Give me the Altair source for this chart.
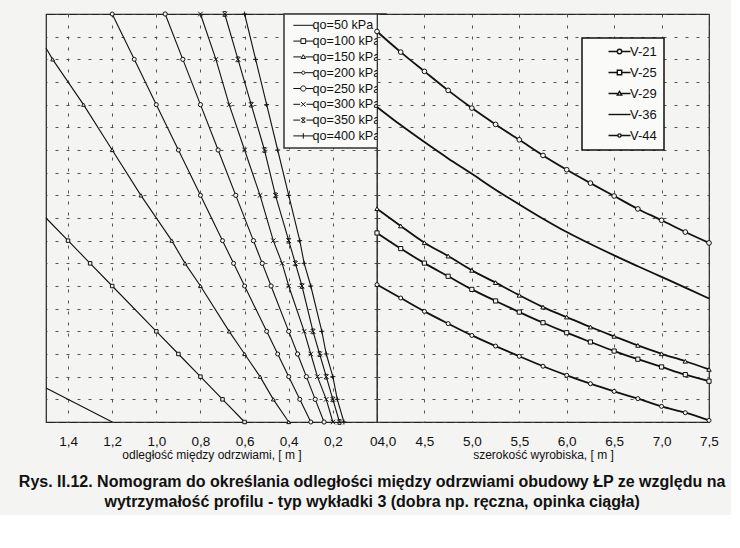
import altair as alt
import pandas as pd

BG = "#f4f4f2"
FONT = "Liberation Sans"

# ---------------- left panel: distance between frames ----------------
left_series = ["qo=50 kPa", "qo=100 kPa", "qo=150 kPa", "qo=200 kPa",
               "qo=250 kPa", "qo=300 kPa", "qo=350 kPa", "qo=400 kPa"]
left_ticks = [1.4, 1.2, 1.0, 0.8, 0.6, 0.4, 0.2, 0.0]

# lines entering through the left frame edge (x, y)
qo50_x = [1.5, 1.2]
qo50_y = [1.5, 0.0]
qo100_start = [1.5, 9.0]
qo150_start = [1.5, 16.5]

# marker points
qo100_x = [1.4, 1.3, 1.2, 1.0, 0.9, 0.8, 0.7, 0.6]
qo100_y = [8, 7, 6, 4, 3, 2, 1, 0]
qo150_x = [1.47, 1.33, 1.2, 1.07, 0.93, 0.87, 0.8, 0.67, 0.6, 0.53, 0.47, 0.4]
qo150_y = [16, 14, 12, 10, 8, 7, 6, 4, 3, 2, 1, 0]
levels = [18, 16, 14, 12, 10, 8, 7, 6, 4, 3, 2, 1, 0]
qo200_x = [1.2, 1.1, 1.0, 0.9, 0.8, 0.7, 0.65, 0.6, 0.5, 0.45, 0.4, 0.35, 0.3]
qo250_x = [0.96, 0.88, 0.8, 0.72, 0.64, 0.56, 0.52, 0.48, 0.4, 0.36, 0.32, 0.28, 0.24]
qo300_x = [0.8, 0.73, 0.67, 0.6, 0.53, 0.47, 0.43, 0.4, 0.33, 0.3, 0.27, 0.23, 0.2]
qo350_x = [0.69, 0.63, 0.57, 0.51, 0.46, 0.4, 0.37, 0.34, 0.29, 0.26, 0.23, 0.2, 0.17]
qo400_x = [0.6, 0.55, 0.5, 0.45, 0.4, 0.35, 0.33, 0.3, 0.25, 0.23, 0.2, 0.18, 0.15]

# ---------------- right panel: excavation width ----------------
right_series = ["V-21", "V-25", "V-29", "V-36", "V-44"]
right_ticks = [4.0, 4.5, 5.0, 5.5, 6.0, 6.5, 7.0, 7.5]
width_x = [4.0, 4.25, 4.5, 4.75, 5.0, 5.25, 5.5, 5.75, 6.0, 6.25, 6.5, 6.75, 7.0, 7.25, 7.5]
v21 = [6.06, 5.47, 4.88, 4.34, 3.82, 3.35, 2.90, 2.46, 2.06, 1.69, 1.35, 1.03, 0.69, 0.41, 0.07]
v25 = [8.34, 7.65, 7.01, 6.43, 5.85, 5.34, 4.85, 4.38, 3.94, 3.53, 3.13, 2.77, 2.43, 2.09, 1.80]
v29 = [9.41, 8.65, 7.91, 7.32, 6.69, 6.15, 5.59, 5.07, 4.63, 4.19, 3.78, 3.38, 3.01, 2.68, 2.32]
v36 = [13.9, 13.1, 12.35, 11.63, 10.95, 10.25, 9.6, 8.97, 8.38, 7.85, 7.35, 6.87, 6.4, 5.93, 5.45]
v44 = [17.23, 16.32, 15.47, 14.63, 13.85, 13.13, 12.45, 11.76, 11.13, 10.54, 9.97, 9.40, 8.90, 8.38, 7.90]

caption = ["Rys. II.12. Nomogram do określania odległości między odrzwiami obudowy ŁP ze względu na",
           "wytrzymałość profilu - typ wykładki 3 (dobra np. ręczna, opinka ciągła)"]

# ---------------- tables ----------------
lrows, lmarks = [], []
def add_left(name, xs, ys, start=None, markers=True):
    if start is not None:
        lrows.append({"series": name, "x": start[0], "y": start[1]})
    for x, y in zip(xs, ys):
        lrows.append({"series": name, "x": x, "y": y})
        if markers:
            lmarks.append({"series": name, "x": x, "y": y})

add_left("qo=50 kPa", qo50_x, qo50_y, markers=False)
add_left("qo=100 kPa", qo100_x, qo100_y, start=qo100_start)
add_left("qo=150 kPa", qo150_x, qo150_y, start=qo150_start)
add_left("qo=200 kPa", qo200_x, levels)
add_left("qo=250 kPa", qo250_x, levels)
add_left("qo=300 kPa", qo300_x, levels)
add_left("qo=350 kPa", qo350_x, levels)
add_left("qo=400 kPa", qo400_x, levels)
left_lines = pd.DataFrame(lrows)
left_marks = pd.DataFrame(lmarks)

rrows = []
for name, ys in zip(right_series, [v21, v25, v29, v36, v44]):
    for x, y in zip(width_x, ys):
        rrows.append({"series": name, "x": x, "y": y, "marker": name != "V-36"})
right_df = pd.DataFrame(rrows)

# ---------------- symbols ----------------
XP = "M-1,-1L1,1M-1,1L1,-1"
XB = "M-1,-1L1,1M-1,1L1,-1M-0.7,-1L0.7,-1M-0.7,1L0.7,1"
PL = "M-1,0L1,0M0,-1L0,1"
left_shapes = ["circle", "square", "triangle-up", "circle", "circle", XP, XB, PL]
left_sizes = [10, 24, 14, 10, 26, 24, 24, 30]

def circ(r):
    return f"M{r},0A{r},{r} 0 1,1 -{r},0A{r},{r} 0 1,1 {r},0Z"

def stub(a, s=5.0):
    return f"M-{s},0L-{a},0M{a},0L{s},0"

left_legend_paths = [
    "M-5.0,0L5.0,0",
    stub(1.2) + "M-1.2,-1.2L1.2,-1.2L1.2,1.2L-1.2,1.2Z",
    stub(1.0) + "M0,-1.1L1.1,0.8L-1.1,0.8Z",
    stub(0.8) + circ(0.8),
    stub(1.3) + circ(1.3),
    stub(1.6) + "M-1.1,-1.1L1.1,1.1M-1.1,1.1L1.1,-1.1",
    stub(1.6) + "M-1.1,-1.1L1.1,1.1M-1.1,1.1L1.1,-1.1M-0.8,-1.1L0.8,-1.1M-0.8,1.1L0.8,1.1",
    "M-5.0,0L5.0,0M0,-1.4L0,1.4",
]
right_shapes = ["circle", "square", "triangle-up", "circle", "circle"]
right_sizes = [16, 22, 14, 10, 10]
right_legend_paths = [
    stub(1.1, 5.5) + circ(1.1),
    stub(1.1, 5.5) + "M-1.1,-1.1L1.1,-1.1L1.1,1.1L-1.1,1.1Z",
    stub(1.0, 5.5) + "M0,-1.1L1.1,0.8L-1.1,0.8Z",
    "M-5.5,0L5.5,0",
    stub(0.8, 5.5) + circ(0.8),
]

H = 408
yenc = alt.Y("y:Q", scale=alt.Scale(domain=[0, 18], nice=False, zero=False),
             axis=alt.Axis(values=list(range(19)), labels=False, title=None))

# ---------------- left chart ----------------
xl = alt.X("x:Q", scale=alt.Scale(domain=[0, 1.5], reverse=True, nice=False, zero=False),
           axis=alt.Axis(values=left_ticks, title="odległość między odrzwiami, [ m ]",
                         labelExpr="datum.value == 0 ? '0  ' : replace(format(datum.value, '.1f'), '.', ',')",
                         labelAlign={"condition": {"test": "datum.value == 0", "value": "right"}, "value": "center"},
                         titleY=36, titleBaseline="alphabetic"))

l_lines = alt.Chart(left_lines).mark_line(color="#111", strokeWidth=1.1).encode(
    x=xl, y=yenc, detail="series:N")
l_pts = alt.Chart(left_marks).mark_point(filled=True, fill=BG, stroke="#111", strokeWidth=1, opacity=1).encode(
    x=xl, y=yenc,
    shape=alt.Shape("series:N", scale=alt.Scale(domain=left_series, range=left_shapes), legend=None),
    size=alt.Size("series:N", scale=alt.Scale(domain=left_series, range=left_sizes), legend=None))
l_leg = alt.Chart(left_lines).transform_filter("false").mark_point(
    color="#111", strokeWidth=1, opacity=1).encode(
    x=xl, y=yenc,
    shape=alt.Shape("series:N", scale=alt.Scale(domain=left_series, range=left_legend_paths),
                    legend=alt.Legend(title=None, orient="none", legendX=238, legendY=0,
                                      symbolSize=16, symbolOffset=8, labelOffset=3,
                                      symbolStrokeColor="#111", symbolStrokeWidth=1,
                                      symbolOpacity=1,
                                      labelFont=FONT, labelFontSize=12.6, labelColor="#111",
                                      rowPadding=2.8, padding=5, strokeColor="#333", fillColor="#fafaf8")))
left = alt.layer(l_lines, l_pts, l_leg).resolve_scale(shape="independent", size="independent").properties(
    width=331, height=H)

# ---------------- right chart ----------------
xr = alt.X("x:Q", scale=alt.Scale(domain=[4.0, 7.5], nice=False, zero=False),
           axis=alt.Axis(values=right_ticks, title="szerokość wyrobiska,  [ m ]",
                         labelExpr="replace(format(datum.value, '.1f'), '.', ',')",
                         labelAlign={"condition": {"test": "datum.value == 4", "value": "left"}, "value": "center"},
                         titleY=36, titleBaseline="alphabetic"))
r_lines = alt.Chart(right_df).mark_line(color="#111", strokeWidth=1.8, interpolate="monotone").encode(
    x=xr, y=yenc, detail="series:N")
r_pts = alt.Chart(right_df).transform_filter("datum.marker").mark_point(
    filled=True, fill=BG, stroke="#111", strokeWidth=1, opacity=1).encode(
    x=xr, y=yenc,
    shape=alt.Shape("series:N", scale=alt.Scale(domain=right_series, range=right_shapes), legend=None),
    size=alt.Size("series:N", scale=alt.Scale(domain=right_series, range=right_sizes), legend=None))
r_leg = alt.Chart(right_df).transform_filter("false").mark_point(
    color="#111", strokeWidth=1.4, opacity=1).encode(
    x=xr, y=yenc,
    shape=alt.Shape("series:N", scale=alt.Scale(domain=right_series, range=right_legend_paths),
                    legend=alt.Legend(title=None, orient="none", legendX=205, legendY=24,
                                      symbolSize=16, symbolOffset=24, labelOffset=4,
                                      symbolStrokeColor="#111", symbolStrokeWidth=1.4,
                                      symbolOpacity=1,
                                      labelFont=FONT, labelFontSize=13, labelColor="#111",
                                      labelExpr="datum.label + '\u00a0\u00a0\u00a0\u00a0\u00a0\u00a0\u00a0'",
                                      rowPadding=7, padding=7, strokeColor="#111",
                                      fillColor="#fafaf8")))
right = alt.layer(r_lines, r_pts, r_leg).resolve_scale(shape="independent", size="independent").properties(
    width=332, height=H)

chart = alt.hconcat(left, right, spacing=0, bounds="flush").resolve_scale(
    shape="independent", size="independent").resolve_legend(shape="independent").properties(
    title=alt.TitleParams(caption, orient="bottom", anchor="middle", font=FONT, fontSize=16,
                          fontWeight="bold", color="#111", lineHeight=20, offset=13, dx=-9),
    padding={"left": 18, "top": 8, "right": 5, "bottom": 5},
    background=BG,
).configure_view(stroke="#222", strokeWidth=1.2, fill=BG).configure_axis(
    grid=True, gridDash=[3, 8], gridColor="#444", gridWidth=1, gridOpacity=0.9,
    domain=False, ticks=False, tickSize=0, labelPadding=12,
    labelFont=FONT, labelFontSize=13.5, labelColor="#111",
    titleFont=FONT, titleFontSize=12, titleFontWeight="normal", titleColor="#111"
).configure_legend(strokeWidth=1.5)

chart.save("out.html", embed_options={"renderer": "svg", "actions": False})
